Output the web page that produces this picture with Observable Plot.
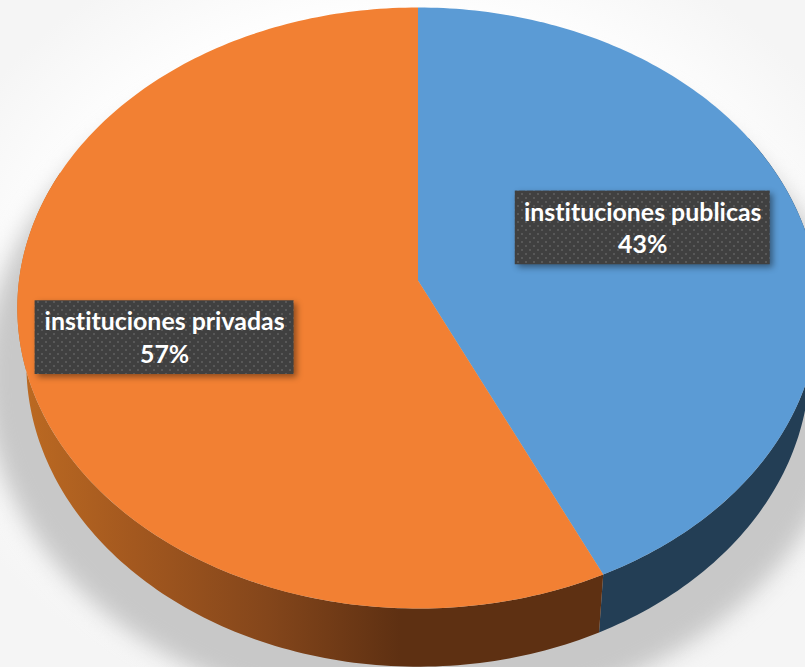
<!DOCTYPE html>
<html>
<head>
<meta charset="utf-8">
<script src="https://cdn.jsdelivr.net/npm/d3@7"></script>
<script src="https://cdn.jsdelivr.net/npm/@observablehq/plot@0.6"></script>
<style>
  html, body { margin: 0; padding: 0; background: #fff; }
  svg { display: block; }
  svg text { font-variant-ligatures: none; }
</style>
</head>
<body>
<div id="chart"></div>
<script>
// ---- data ----
const categories = ["instituciones publicas", "instituciones privadas"];
const shares = [43, 57];
const sliceColors = ["#5B9BD5", "#F28033"];
const sideColors = ["#233E55", "url(#ladoNaranja)"];

// ---- layout: perspective of the tilted disc, in chart units ----
const W = 805, H = 667;
const disc = {cx: 417.5, p: 0.0915};
const topFace = {y0: 280, a: 399, b: 298};
const bottomFace = {y0: 336, a: 390, b: 300};
const shadowFace = {y0: 344, a: 432, b: 340};
const sideVisible = [[60, null], [null, 292]]; // where each wall is seen, degrees
const labelLayout = [
  {radius: 0.6, turn: -4.8, w: 255, h: 73.7},
  {radius: 0.652, turn: -4.2, w: 259, h: 73.7}
];

const project = (face, deg, r = 1) => {
  const t = deg * Math.PI / 180, u = r * Math.sin(t), v = -r * Math.cos(t);
  const d = 1 - disc.p * v;
  return {x: disc.cx + face.a * u / d, y: face.y0 + face.b * v / d};
};
const arc = (face, a0, a1) => {
  const n = Math.max(2, Math.ceil(Math.abs(a1 - a0)));
  return d3.range(n + 1).map(i => project(face, a0 + (a1 - a0) * i / n));
};

const total = d3.sum(shares);
const cum = d3.cumsum(shares).map(s => s / total * 360);
const slices = categories.map((name, i) => ({
  name, share: shares[i], a0: i ? cum[i - 1] : 0, a1: cum[i]
}));

const topOutline = s => [project(topFace, 0, 0), ...arc(topFace, s.a0, s.a1)];
const sideOutline = (s, i) => {
  const a0 = sideVisible[i][0] ?? s.a0, a1 = sideVisible[i][1] ?? s.a1;
  return [...arc(topFace, a0, a1), ...arc(bottomFace, a1, a0)];
};
const shadowOutline = arc(shadowFace, 0, 360);

const labels = slices.map((s, i) => {
  const L = labelLayout[i];
  const c = project(topFace, (s.a0 + s.a1) / 2 + L.turn, L.radius);
  return {x1: c.x - L.w / 2, x2: c.x + L.w / 2, y1: c.y - L.h / 2, y2: c.y + L.h / 2,
          x: c.x, y: c.y, text: `${s.name}\n${s.share}%`};
});

const defs = () => {
  const ns = "http://www.w3.org/2000/svg";
  const g = document.createElementNS(ns, "defs");
  g.innerHTML = `
    <linearGradient id="ladoNaranja" gradientUnits="userSpaceOnUse" x1="20" y1="0" x2="400" y2="0">
      <stop offset="0" stop-color="#BC6A22"/>
      <stop offset="0.3" stop-color="#A3581F"/>
      <stop offset="0.65" stop-color="#84461B"/>
      <stop offset="1" stop-color="#5E3012"/>
    </linearGradient>
    <pattern id="puntos" width="8" height="8" patternUnits="userSpaceOnUse">
      <rect width="8" height="8" fill="#404040"/>
      <rect x="1" y="1" width="2" height="2" fill="#585858"/>
      <rect x="5" y="5" width="2" height="2" fill="#585858"/>
    </pattern>`;
  return g;
};

const withFilter = filter => (index, scales, values, dims, context, next) => {
  const g = next(index, scales, values, dims, context);
  g.style.filter = filter;
  return g;
};

const chart = Plot.plot({
  width: W, height: H, margin: 0,
  x: {domain: [0, W], range: [0, W], axis: null},
  y: {domain: [0, H], range: [0, H], axis: null},
  style: {
    background: "radial-gradient(ellipse 62% 62% at 50% 48%, #fff 72%, #f5f5f5 100%)",
    overflow: "hidden"
  },
  marks: [
    defs,
    Plot.line(shadowOutline, {x: "x", y: "y", fill: "#c8c8c8", stroke: "none", render: withFilter("blur(11px)")}),
    ...slices.map((s, i) => Plot.line(sideOutline(s, i), {x: "x", y: "y", fill: sideColors[i], stroke: "none", curve: "linear"})),
    ...slices.map((s, i) => Plot.line(topOutline(s), {x: "x", y: "y", fill: sliceColors[i], stroke: "none", curve: "linear"})),
    Plot.rect(labels, {x1: "x1", x2: "x2", y1: "y1", y2: "y2", fill: "url(#puntos)",
      render: withFilter("drop-shadow(3.5px 3.5px 3px rgba(0,0,0,.42))")}),
    Plot.text(labels, {x: "x", y: "y", dy: -1.5, text: "text", fill: "#fff", fontFamily: "Lato", fontWeight: 700, fontSize: 24.9, lineHeight: 1.3, lineAnchor: "middle"})
  ]
});
document.getElementById("chart").append(chart);
</script>
</body>
</html>
